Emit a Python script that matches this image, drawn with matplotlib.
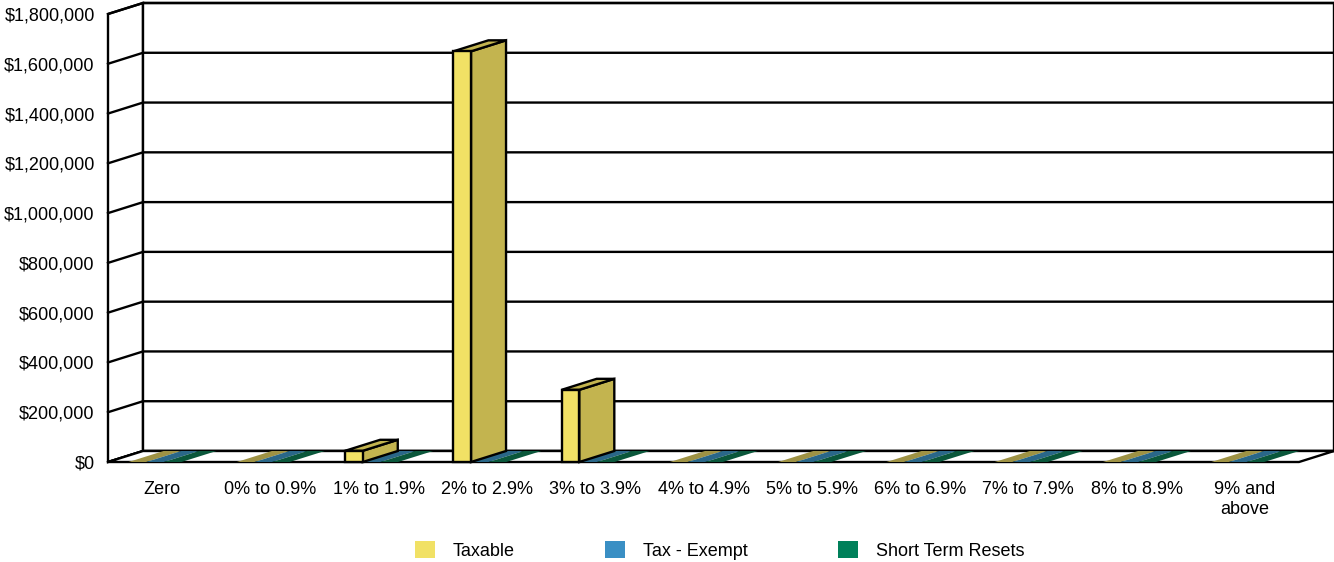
import numpy as np
import matplotlib.pyplot as plt
from matplotlib.patches import Polygon, Patch

plt.rcParams['font.family'] = ['Liberation Sans', 'DejaVu Sans']

categories = ['Zero', '0% to 0.9%', '1% to 1.9%', '2% to 2.9%', '3% to 3.9%', '4% to 4.9%',
              '5% to 5.9%', '6% to 6.9%', '7% to 7.9%', '8% to 8.9%', '9% and\nabove']
taxable = [0, 0, 45000, 1650000, 290000, 0, 0, 0, 0, 0, 0]
tax_exempt = [0, 0, 0, 0, 0, 0, 0, 0, 0, 0, 0]
short_term = [0, 0, 0, 0, 0, 0, 0, 0, 0, 0, 0]
series_names = ['Taxable', 'Tax - Exempt', 'Short Term Resets']
yticks = np.arange(0, 1800001, 200000)

# front / side / top colours for each series
front_c = ['#F1E165', '#3A8FC4', '#00805A']
side_c = ['#C3B44F', '#2E6E93', '#0B6244']
top_c = ['#9E9244', '#2A6788', '#0A573B']

W, H = 1334, 562
fig = plt.figure(figsize=(W / 100, H / 100), dpi=100)
ax = fig.add_axes([108 / W, 100 / H, 1191 / W, 448 / H])
n = len(categories)
ymax = 1800000
ax.set_xlim(0, n)
ax.set_ylim(0, ymax)

# depth offset in data units (35 px right, 11 px up)
DX = 35 / (1191 / n)
DY = 11 / (448 / ymax)
off, w = 0.19, 0.163
lw = 1.7

def poly(pts, **kw):
    p = Polygon(pts, closed=True, clip_on=False, **kw)
    ax.add_patch(p)

# walls and floor
poly([(0, 0), (0, ymax), (DX, ymax + DY), (DX, DY)], facecolor='white', edgecolor='black', lw=lw, zorder=1)
poly([(DX, DY), (DX, ymax + DY), (n + DX, ymax + DY), (n + DX, DY)], facecolor='white', edgecolor='black', lw=lw, zorder=1)
poly([(0, 0), (n, 0), (n + DX, DY), (DX, DY)], facecolor='white', edgecolor='black', lw=lw, zorder=2)
for v in yticks:
    ax.plot([0, DX, n + DX], [v, v + DY, v + DY], color='black', lw=lw, clip_on=False, zorder=1.5)

series = [taxable, tax_exempt, short_term]
for i in range(n):
    for s, vals in enumerate(series):
        v = vals[i]
        x0 = i + off + s * w
        x1 = x0 + w
        if v == 0:
            poly([(x0, 0), (x1, 0), (x1 + DX, DY), (x0 + DX, DY)],
                 facecolor=top_c[s], edgecolor='none', zorder=3)
            continue
        ax.bar(x0, v, width=w, align='edge', color=front_c[s], edgecolor='black', lw=lw,
               clip_on=False, zorder=5)
        poly([(x1, 0), (x1 + DX, DY), (x1 + DX, v + DY), (x1, v)],
             facecolor=side_c[s], edgecolor='black', lw=lw, zorder=4)
        poly([(x0, v), (x1, v), (x1 + DX, v + DY), (x0 + DX, v + DY)],
             facecolor=side_c[s], edgecolor='black', lw=lw, zorder=4)

for sp in ax.spines.values():
    sp.set_visible(False)
ax.set_yticks(yticks)
ax.set_yticklabels(['${:,.0f}'.format(v) for v in yticks])
ax.set_xticks(np.arange(n) + 0.5)
ax.set_xticklabels(categories)
ax.tick_params(axis='y', length=0, pad=9.5, labelsize=13)
ax.tick_params(axis='x', length=0, pad=14, labelsize=13)

handles = [Patch(facecolor=front_c[k], edgecolor='none') for k in range(3)]
fig.legend(handles, series_names, loc='center', bbox_to_anchor=(0.5395, 0.021), ncol=3, frameon=False,
           fontsize=13, handlelength=1.1, handleheight=1.1, handletextpad=1.0, columnspacing=5.0)

fig.savefig('out.png', dpi=100)
